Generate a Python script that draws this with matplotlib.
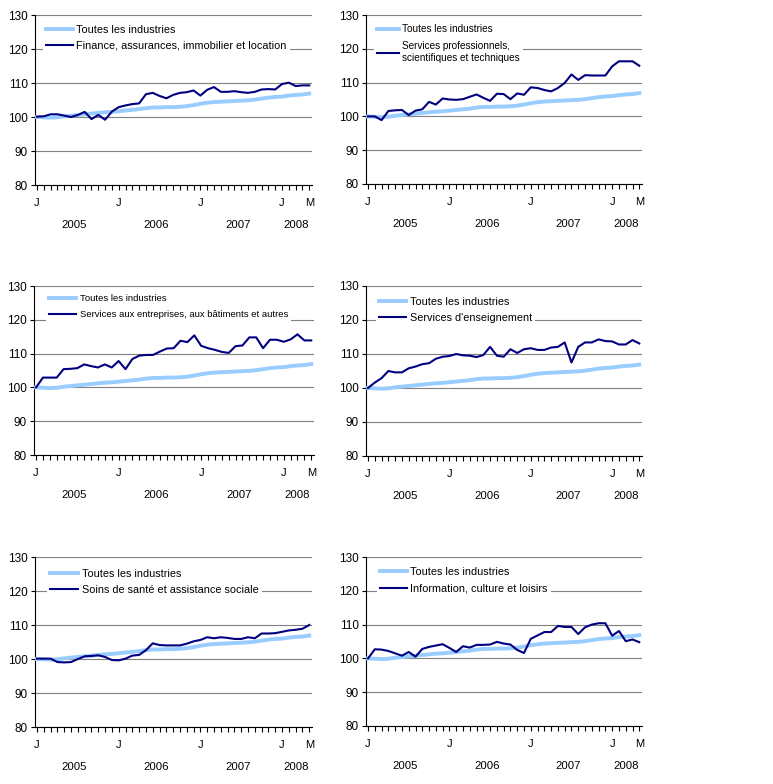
import matplotlib.pyplot as plt
from matplotlib.transforms import blended_transform_factory

plt.rcParams['font.family'] = ['Liberation Sans', 'DejaVu Sans']
plt.rcParams['axes.unicode_minus'] = False

DPI = 100

# Monthly index, January 2005 to May 2008 (2005 = 100)
months = list(range(41))

toutes = [100.0, 99.9, 99.8, 99.9, 100.2, 100.4, 100.6, 100.8, 101.0, 101.2,
          101.4, 101.5, 101.7, 101.9, 102.1, 102.3, 102.6, 102.8, 102.8, 102.9,
          102.9, 103.0, 103.2, 103.5, 103.9, 104.2, 104.4, 104.5, 104.6, 104.7,
          104.8, 104.9, 105.1, 105.4, 105.7, 105.9, 106.0, 106.3, 106.5, 106.6,
          106.9]

finance = [100.1, 100.2, 100.8, 100.8, 100.4, 100.0, 100.6, 101.5, 99.4, 100.6,
           99.2, 101.6, 102.9, 103.4, 103.8, 104.0, 106.7, 107.1, 106.2, 105.5,
           106.5, 107.1, 107.3, 107.8, 106.3, 108.0, 108.8, 107.4, 107.4, 107.6,
           107.3, 107.1, 107.4, 108.1, 108.2, 108.1, 109.7, 110.1, 109.1, 109.3,
           109.3]

professionnels = [100.0, 100.0, 98.9, 101.6, 101.8, 101.9, 100.4, 101.7, 102.1, 104.3,
                  103.5, 105.3, 105.0, 104.9, 105.1, 105.8, 106.5, 105.5, 104.6, 106.7,
                  106.6, 105.1, 106.8, 106.4, 108.6, 108.4, 107.8, 107.4, 108.4, 109.9,
                  112.4, 110.8, 112.2, 112.1, 112.1, 112.1, 114.8, 116.3, 116.3, 116.3,
                  115.0]

entreprises = [100.0, 102.9, 102.9, 102.9, 105.4, 105.5, 105.7, 106.8, 106.3, 105.9,
               106.8, 105.9, 107.8, 105.4, 108.4, 109.4, 109.6, 109.6, 110.6, 111.5,
               111.6, 113.8, 113.4, 115.4, 112.3, 111.6, 111.1, 110.5, 110.2, 112.2,
               112.4, 114.8, 114.8, 111.6, 114.1, 114.1, 113.5, 114.2, 115.7, 113.9,
               113.9]

enseignement = [100.0, 101.6, 102.9, 105.0, 104.6, 104.6, 105.8, 106.3, 107.0, 107.3,
                108.6, 109.2, 109.4, 110.0, 109.6, 109.5, 109.1, 109.7, 112.1, 109.5,
                109.2, 111.4, 110.3, 111.4, 111.7, 111.2, 111.2, 111.9, 112.1, 113.4,
                107.5, 112.1, 113.4, 113.4, 114.3, 113.8, 113.7, 112.8, 112.8, 114.1,
                113.1]

sante = [100.1, 100.1, 100.1, 99.1, 99.0, 99.1, 100.0, 100.8, 100.9, 101.1,
         100.6, 99.7, 99.6, 100.1, 101.0, 101.2, 102.6, 104.6, 104.1, 104.0,
         104.0, 104.0, 104.5, 105.2, 105.6, 106.4, 106.1, 106.4, 106.2, 105.9,
         105.9, 106.4, 106.1, 107.5, 107.5, 107.6, 108.0, 108.4, 108.6, 108.9,
         110.0]

information = [100.0, 102.7, 102.6, 102.2, 101.5, 100.8, 101.9, 100.5, 102.8, 103.4,
               103.8, 104.2, 103.1, 101.9, 103.6, 103.2, 104.0, 104.0, 104.1, 104.9,
               104.4, 104.1, 102.5, 101.6, 105.8, 106.8, 107.8, 107.8, 109.6, 109.3,
               109.3, 107.2, 109.2, 110.0, 110.4, 110.4, 106.7, 108.1, 105.1, 105.6,
               104.8]

total_label = 'Toutes les industries'
month_ticks = [0, 12, 24, 36, 40]
month_labels = ['J', 'J', 'J', 'J', 'M']
year_pos = [5.5, 17.5, 29.5, 38]
year_labels = ['2005', '2006', '2007', '2008']

LIGHT = '#99ccff'
NAVY = '#000080'

# axes boxes in pixels: left, top, right, bottom
boxes = [(35, 15, 312, 185), (366, 15, 642, 184),
         (34, 286, 314, 455), (366, 286, 642, 456),
         (35, 557, 312, 727), (366, 557, 642, 726)]

# sector label, series, legend: handle x px, first row y px, font size, handle px, row pitch px
panels = [
    ('Finance, assurances, immobilier et location', finance, (11, 13, 7.8, 27, 16)),
    ('Services professionnels,\nscientifiques et techniques', professionnels, (11, 12, 7.2, 22, 16)),
    ('Services aux entreprises, aux bâtiments et autres', entreprises, (15, 11, 6.8, 27, 16)),
    ("Services d'enseignement", enseignement, (13, 14, 7.8, 27, 16)),
    ('Soins de santé et assistance sociale', sante, (15, 15, 7.8, 28, 16)),
    ('Information, culture et loisirs', information, (14, 13, 7.8, 27, 17)),
]

W, H = 773, 784
fig = plt.figure(figsize=(W / DPI, H / DPI), dpi=DPI)

for (l, t, r, b), (label, series, leg) in zip(boxes, panels):
    ax = fig.add_axes([l / W, 1 - b / H, (r - l) / W, (b - t) / H])
    ax.set_xlim(-0.3, 40.4)
    ax.set_ylim(80, 130)
    ax.set_yticks(range(80, 131, 10))
    ax.yaxis.grid(True, color='#808080', linewidth=0.8)
    ax.set_axisbelow(True)
    for s in ['top', 'right']:
        ax.spines[s].set_visible(False)
    for s in ['left', 'bottom']:
        ax.spines[s].set_linewidth(0.8)

    ax.plot(months, toutes, color=LIGHT, linewidth=2.8, label=total_label, zorder=3)
    ax.plot(months, series, color=NAVY, linewidth=1.5, label=label, zorder=4)

    ax.set_xticks(month_ticks)
    ax.set_xticklabels(month_labels)
    ax.set_xticks(months, minor=True)
    ax.tick_params(axis='x', which='both', direction='out', length=3.5, width=0.8,
                   labelsize=8, pad=6)
    ax.tick_params(axis='y', direction='out', length=3, width=0.8, labelsize=8.5, pad=2)

    tr = blended_transform_factory(ax.transData, ax.transAxes)
    for x, yl in zip(year_pos, year_labels):
        ax.text(x, -40 / (b - t), yl, transform=tr, ha='center', va='center', fontsize=8.2)

    hx, ry, fs, hpx, pitch = leg
    fs_px = fs * DPI / 72
    pad = 0.3
    pad_px = pad * fs_px
    left = (hx - pad_px) / (r - l)
    top = 1 - (ry - 0.3 * fs_px - pad_px) / (b - t)
    lg = ax.legend(loc='upper left', bbox_to_anchor=(left, top), borderaxespad=0,
                   fontsize=fs, frameon=True, facecolor='white', edgecolor='white',
                   framealpha=1, fancybox=False, borderpad=pad,
                   handlelength=hpx / fs_px, handletextpad=3.5 / fs_px,
                   labelspacing=(pitch - 0.92 * fs_px) / fs_px)
    lg.get_frame().set_linewidth(0)
    for txt in lg.get_texts():
        txt.set_linespacing(1.3)

fig.savefig('out.png', dpi=DPI)
